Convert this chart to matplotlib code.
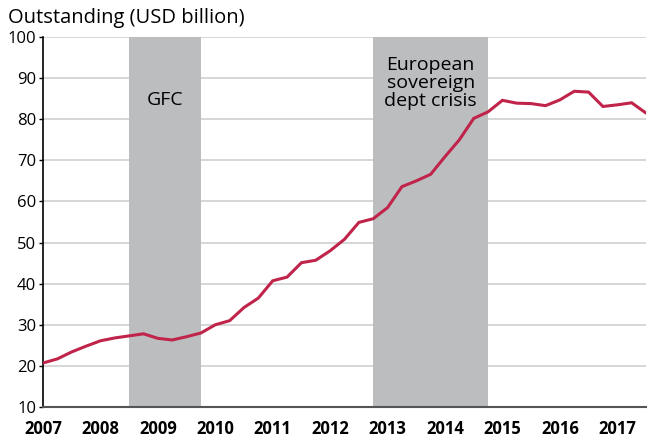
import numpy as np
import matplotlib
matplotlib.use("Agg")
import matplotlib.pyplot as plt

plt.rcParams['font.family'] = ['Open Sans', 'DejaVu Sans']

# quarterly values, 2007Q1 .. 2017Q3
values = [20.7, 21.7, 23.4, 24.8, 26.1, 26.8, 27.3, 27.8, 26.7, 26.3,
          27.1, 28.0, 30.0, 31.0, 34.2, 36.5, 40.7, 41.6, 45.1, 45.7,
          48.0, 50.8, 54.9, 55.8, 58.5, 63.6, 65.0, 66.6, 70.9, 75.0,
          80.2, 81.8, 84.6, 83.9, 83.8, 83.3, 84.7, 86.8, 86.6, 83.1,
          83.5, 84.0, 81.5]
start_year = 2007
years = list(range(2007, 2018))
gfc = (2008.5, 2009.75)
euro = (2012.75, 2014.75)

x = start_year + np.arange(len(values)) / 4

fig = plt.figure(figsize=(6.53, 4.38), dpi=100)
ax = fig.add_axes([43 / 653, 31 / 438, 603 / 653, 370 / 438])

ax.axvspan(*gfc, color='#bcbdbf', lw=0, zorder=1)
ax.axvspan(*euro, color='#bcbdbf', lw=0, zorder=1)
ax.plot(x, values, color='#c0244a', lw=2.2, zorder=3, solid_joinstyle='miter')

ax.set_xlim(start_year, x[-1])
ax.set_ylim(10, 100)
ax.set_yticks(range(10, 101, 10))
ax.set_xticks(years)
ax.set_xticklabels([str(y) for y in years], fontweight='bold', fontsize=12)
ax.tick_params(axis='x', length=0, pad=9)
ax.tick_params(axis='y', length=3, width=1, labelsize=12, pad=2)
ax.yaxis.grid(True, color='#d0d0d0', lw=1.2, zorder=0)
ax.set_axisbelow(True)

for s in ['top', 'right']:
    ax.spines[s].set_visible(False)
ax.spines['left'].set_color('black')
ax.spines['left'].set_linewidth(1.2)
ax.spines['bottom'].set_color('#555555')
ax.spines['bottom'].set_linewidth(1.5)

ax.text(sum(gfc) / 2, 84.6, 'GFC', ha='center', va='center', fontsize=14, zorder=4)
ax.text(sum(euro) / 2, 88.8, 'European\nsovereign\ndept crisis', ha='center',
        va='center', fontsize=14, linespacing=0.98, zorder=4)

fig.text(8 / 653, 1 - 18 / 438, 'Outstanding (USD billion)', fontsize=14.5,
         ha='left', va='center')

fig.savefig('out.png', dpi=100)
